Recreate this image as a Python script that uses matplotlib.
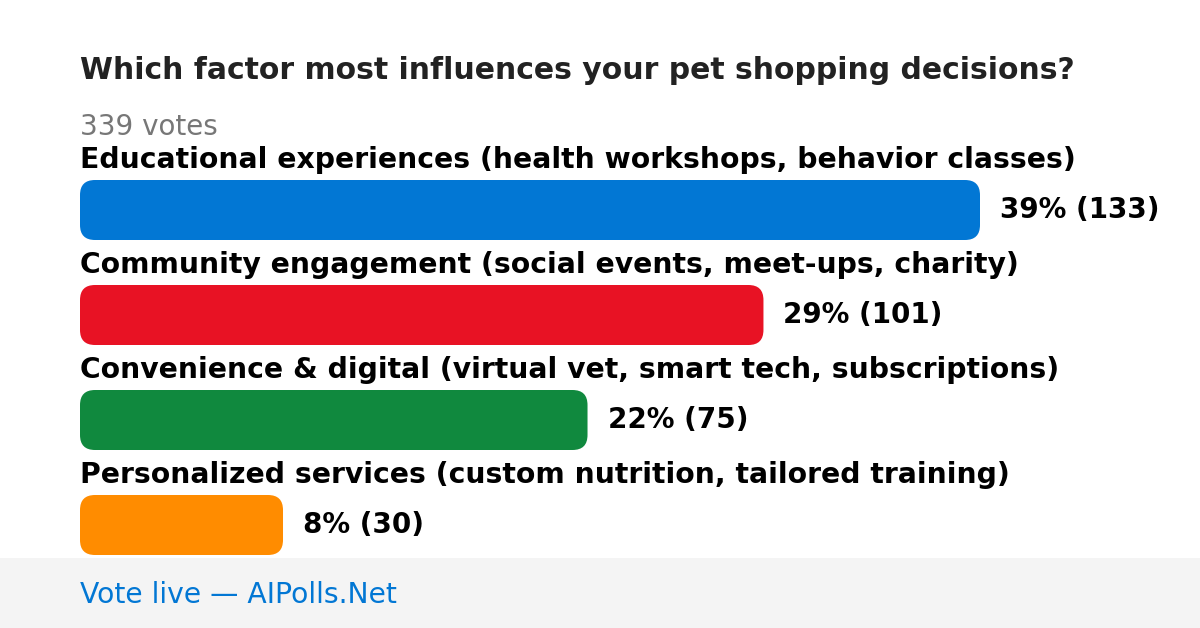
import matplotlib
matplotlib.use("Agg")
import matplotlib.pyplot as plt
from matplotlib.patches import FancyBboxPatch, Rectangle

# Poll data
title = "Which factor most influences your pet shopping decisions?"
total_votes = 339
categories = [
    "Educational experiences (health workshops, behavior classes)",
    "Community engagement (social events, meet-ups, charity)",
    "Convenience & digital (virtual vet, smart tech, subscriptions)",
    "Personalized services (custom nutrition, tailored training)",
]
votes = [133, 101, 75, 30]
percents = [39, 29, 22, 8]
colors = ["#0277d4", "#e81224", "#10893e", "#ff8c00"]
footer = "Vote live \u2014 AIPolls.Net"

W, H = 1200, 628
fig = plt.figure(figsize=(W / 100, H / 100), dpi=100)
fig.patch.set_facecolor("white")

# footer band
fig.patches.append(Rectangle((0, 0), 1, 70.5 / H, transform=fig.transFigure,
                             facecolor="#f4f4f4", edgecolor="none", zorder=0))

# bar axes: 900px wide for the max value, 105px per row
row_px = 105
bar_px = 60
ax = fig.add_axes([80 / W, (H - 577.5) / H, 900 / W, 4 * row_px / H])
ax.set_xlim(0, max(votes))
ax.set_ylim(len(votes) - 0.5, -0.5)
ax.axis("off")

x_per_px = max(votes) / 900
y_per_px = 1 / row_px
bh = bar_px * y_per_px
r = 15 * x_per_px
for i, (v, c) in enumerate(zip(votes, colors)):
    ax.add_patch(FancyBboxPatch((0, i - bh / 2), v, bh,
                                boxstyle=f"round,pad=0,rounding_size={r}",
                                mutation_aspect=y_per_px / x_per_px,
                                facecolor=c, edgecolor="none", clip_on=False))
    ax.annotate(categories[i], (0, i), xytext=(0, 42), textcoords="offset pixels",
                ha="left", va="baseline", fontsize=20.3, fontweight="bold",
                color="black", annotation_clip=False)
    ax.annotate(f"{percents[i]}% ({v})", (v, i), xytext=(20, -8),
                textcoords="offset pixels", ha="left", va="baseline",
                fontsize=20, fontweight="bold", color="black",
                annotation_clip=False)

# header and footer texts (figure pixels)
fig.text(80 / W, 1 - 79 / H, title, fontsize=21.5, fontweight="bold",
         color="#222222", ha="left", va="baseline")
fig.text(80 / W, 1 - 135 / H, f"{total_votes} votes", fontsize=20,
         color="#777777", ha="left", va="baseline")
fig.text(80 / W, 1 - 603 / H, footer, fontsize=20.3, color="#0277d4",
         ha="left", va="baseline")

fig.savefig("out.png", dpi=100)
